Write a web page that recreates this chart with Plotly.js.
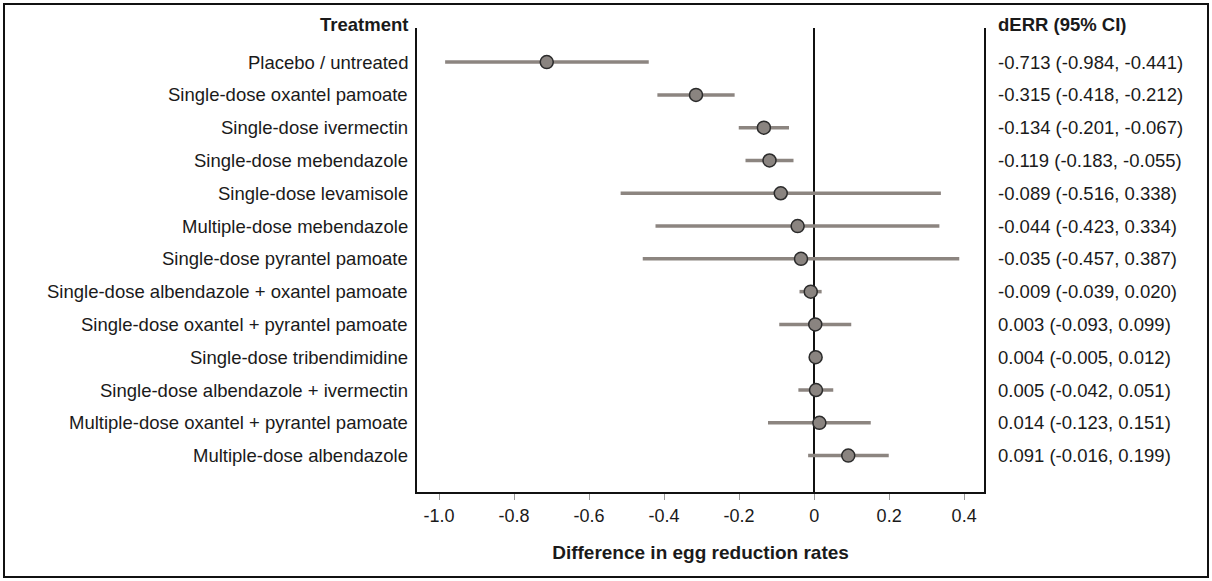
<!DOCTYPE html>
<html><head><meta charset="utf-8">
<script src="https://cdn.plot.ly/plotly-3.0.1.min.js"></script>
<style>
html,body{margin:0;padding:0;background:#fff;}
#wrap{position:absolute;left:3px;top:3px;width:1206px;height:575px;border:2px solid #111;box-sizing:border-box;pointer-events:none;}
#chart{position:absolute;left:0;top:0;width:1212px;height:581px;}
</style></head>
<body>
<div id="chart"></div>
<div id="wrap"></div>
<script>
const treatments = [
  "Placebo / untreated",
  "Single-dose oxantel pamoate",
  "Single-dose ivermectin",
  "Single-dose mebendazole",
  "Single-dose levamisole",
  "Multiple-dose mebendazole",
  "Single-dose pyrantel pamoate",
  "Single-dose albendazole + oxantel pamoate",
  "Single-dose oxantel + pyrantel pamoate",
  "Single-dose tribendimidine",
  "Single-dose albendazole + ivermectin",
  "Multiple-dose oxantel + pyrantel pamoate",
  "Multiple-dose albendazole"
];
const dERR  = [-0.713,-0.315,-0.134,-0.119,-0.089,-0.044,-0.035,-0.009,0.003,0.004,0.005,0.014,0.091];
const lower = [-0.984,-0.418,-0.201,-0.183,-0.516,-0.423,-0.457,-0.039,-0.093,-0.005,-0.042,-0.123,-0.016];
const upper = [-0.441,-0.212,-0.067,-0.055,0.338,0.334,0.387,0.020,0.099,0.012,0.051,0.151,0.199];
const ciLabels = [
  "-0.713 (-0.984, -0.441)","-0.315 (-0.418, -0.212)","-0.134 (-0.201, -0.067)",
  "-0.119 (-0.183, -0.055)","-0.089 (-0.516, 0.338)","-0.044 (-0.423, 0.334)",
  "-0.035 (-0.457, 0.387)","-0.009 (-0.039, 0.020)","0.003 (-0.093, 0.099)",
  "0.004 (-0.005, 0.012)","0.005 (-0.042, 0.051)","0.014 (-0.123, 0.151)",
  "0.091 (-0.016, 0.199)"
];
const xTickVals = [-1.0,-0.8,-0.6,-0.4,-0.2,0,0.2,0.4];
const xTickText = ["-1.0","-0.8","-0.6","-0.4","-0.2","0","0.2","0.4"];
const leftHeader = "Treatment";
const rightHeader = "dERR (95% CI)";
const xTitle = "Difference in egg reduction rates";

const rows = treatments.map((_, i) => i);
const font = "Liberation Sans, Arial, sans-serif";
const txt = "#1a1a1a";

const trace = {
  type: "scatter", mode: "markers",
  x: dERR, y: rows,
  error_x: {type: "data", symmetric: false,
    array: upper.map((u, i) => u - dERR[i]),
    arrayminus: dERR.map((d, i) => d - lower[i]),
    color: "#8c8580", thickness: 3.5, width: 0},
  marker: {size: 13, color: "#8a8480", line: {color: "#2b2b2b", width: 1.5}},
  hoverinfo: "skip", showlegend: false, cliponaxis: false
};

const annotations = [];
treatments.forEach((t, i) => annotations.push({
  text: t, xref: "paper", x: 0, xanchor: "right", xshift: -7,
  yref: "y", y: i, yanchor: "middle", showarrow: false,
  font: {family: font, size: 18.5, color: txt}
}));
ciLabels.forEach((t, i) => annotations.push({
  text: t, xref: "paper", x: 1, xanchor: "left", xshift: 12,
  yref: "y", y: i, yanchor: "middle", showarrow: false,
  font: {family: font, size: 18.5, color: txt}
}));
annotations.push({text: "<b>" + leftHeader + "</b>", xref: "paper", x: 0, xanchor: "right", xshift: -7,
  yref: "paper", y: 1, yshift: 4, yanchor: "middle", showarrow: false, font: {family: font, size: 18.5, color: txt}});
annotations.push({text: "<b>" + rightHeader + "</b>", xref: "paper", x: 1, xanchor: "left", xshift: 12,
  yref: "paper", y: 1, yshift: 4, yanchor: "middle", showarrow: false, font: {family: font, size: 18.5, color: txt}});

const layout = {
  width: 1212, height: 581,
  margin: {l: 417, r: 228, t: 28, b: 89},
  paper_bgcolor: "rgba(0,0,0,0)", plot_bgcolor: "#fff",
  showlegend: false,
  xaxis: {
    range: [-1.059, 0.453], tickvals: xTickVals, ticktext: xTickText,
    ticks: "outside", ticklen: 6, tickcolor: "#999", tickwidth: 1,
    showgrid: false, zeroline: true, zerolinecolor: "#111", zerolinewidth: 1.5,
    showline: true, linecolor: "#111", linewidth: 2,
    tickfont: {family: font, size: 18, color: txt},
    title: {text: "<b>" + xTitle + "</b>", font: {family: font, size: 19, color: txt}, standoff: 21}
  },
  yaxis: {
    range: [13.11, -1.04], showticklabels: false, ticks: "",
    showgrid: false, zeroline: false,
    showline: true, mirror: true, linecolor: "#111", linewidth: 2
  },
  annotations: annotations
};

Plotly.newPlot("chart", [trace], layout, {staticPlot: true});
</script>
</body></html>
